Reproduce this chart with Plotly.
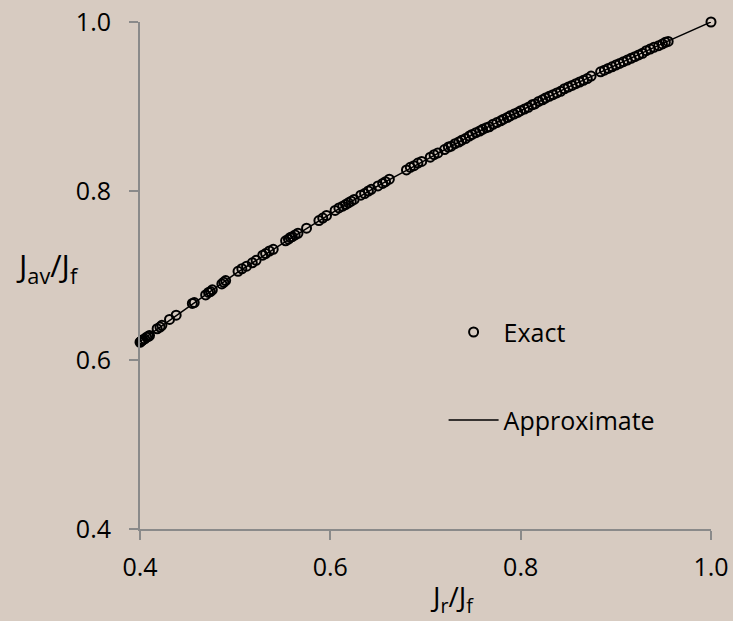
import plotly.graph_objects as go

# Exact points (J_r/J_f, J_av/J_f)
exact_x = [0.400, 0.401, 0.402, 0.403, 0.405, 0.407, 0.409, 0.410,
           0.418, 0.421, 0.423, 0.431, 0.438, 0.455, 0.457,
           0.469, 0.472, 0.474, 0.476, 0.486, 0.488, 0.490,
           0.503, 0.507, 0.512, 0.518, 0.522, 0.529, 0.532, 0.536, 0.540,
           0.553, 0.556, 0.558, 0.560, 0.563, 0.566, 0.575,
           0.588, 0.592, 0.596, 0.605, 0.609, 0.613, 0.616, 0.619, 0.622, 0.625,
           0.632, 0.636, 0.640, 0.643, 0.650, 0.655, 0.658, 0.662,
           0.680, 0.684, 0.688, 0.692, 0.696, 0.705, 0.709, 0.713,
           0.720, 0.724, 0.727, 0.731, 0.735, 0.738, 0.742,
           0.746, 0.749, 0.753, 0.757, 0.760, 0.764, 0.767, 0.771,
           0.775, 0.779, 0.782, 0.786, 0.789, 0.793, 0.797, 0.800, 0.804,
           0.808, 0.812, 0.815, 0.819, 0.823, 0.826, 0.830, 0.834,
           0.838, 0.842, 0.846, 0.850, 0.854, 0.858, 0.862, 0.866, 0.870, 0.874,
           0.884, 0.888, 0.892, 0.896, 0.900, 0.904,
           0.908, 0.912, 0.916, 0.920, 0.924, 0.928, 0.932, 0.936, 0.940,
           0.945, 0.949, 0.952, 0.955, 1.000]
exact_y = [0.621, 0.622, 0.623, 0.624, 0.625, 0.627, 0.628, 0.629,
           0.637, 0.639, 0.641, 0.648, 0.653, 0.667, 0.668,
           0.677, 0.680, 0.681, 0.683, 0.690, 0.692, 0.694,
           0.705, 0.708, 0.711, 0.715, 0.718, 0.724, 0.726, 0.729, 0.731,
           0.741, 0.743, 0.745, 0.746, 0.748, 0.750, 0.756,
           0.765, 0.768, 0.771, 0.777, 0.780, 0.782, 0.784, 0.786, 0.788, 0.790,
           0.795, 0.797, 0.800, 0.802, 0.806, 0.809, 0.811, 0.814,
           0.825, 0.828, 0.830, 0.833, 0.835, 0.840, 0.843, 0.845,
           0.849, 0.852, 0.853, 0.856, 0.858, 0.860, 0.862,
           0.865, 0.867, 0.869, 0.871, 0.873, 0.875, 0.876, 0.879,
           0.881, 0.883, 0.885, 0.887, 0.889, 0.891, 0.893, 0.895, 0.897,
           0.899, 0.902, 0.903, 0.906, 0.908, 0.910, 0.912, 0.914,
           0.916, 0.918, 0.921, 0.923, 0.925, 0.927, 0.929, 0.931, 0.933, 0.936,
           0.941, 0.943, 0.945, 0.947, 0.949, 0.951,
           0.953, 0.955, 0.957, 0.959, 0.961, 0.963, 0.966, 0.968, 0.970,
           0.972, 0.974, 0.976, 0.977, 1.000]

# Approximate curve nodes
approx_x = [0.40, 0.45, 0.50, 0.55, 0.60, 0.65, 0.70, 0.75, 0.80, 0.85, 0.90, 0.95, 1.00]
approx_y = [0.622, 0.662, 0.702, 0.738, 0.773, 0.806, 0.837, 0.867, 0.895, 0.923, 0.949, 0.975, 1.000]

tick_vals = [0.4, 0.6, 0.8, 1.0]
tick_text = ["0.4", "0.6", "0.8", "1.0"]

BG = "#d7cbc1"
AX = "#8a8a8a"
FONT = "Open Sans"

# plot area in pixels
L, R, T, B = 140.3, 711.5, 21.8, 528.7
PW, PH = R - L, B - T


def px_x(p):
    return (p - L) / PW


def px_y(p):
    return (B - p) / PH


fig = go.Figure()
fig.add_trace(go.Scatter(
    x=approx_x, y=approx_y, mode="lines", name="Approximate",
    line=dict(color="black", width=1.5), legend="legend2", cliponaxis=False))
fig.add_trace(go.Scatter(
    x=exact_x, y=exact_y, mode="markers", name="Exact", showlegend=True,
    marker=dict(symbol="circle-open", size=9, color="black", line=dict(width=2)),
    legend="legend", cliponaxis=False))

axis_common = dict(
    range=[0.4, 1.0], tickvals=tick_vals, ticktext=tick_text, automargin=False,
    showgrid=False, zeroline=False, showline=True, linecolor=AX, linewidth=2,
    ticks="outside", ticklen=9, tickwidth=2, tickcolor=AX,
    tickfont=dict(family=FONT, size=25, color="black"))

fig.update_layout(
    width=733, height=621, autosize=False, showlegend=True,
    margin=dict(l=L, r=733 - R, t=T, b=621 - B),
    paper_bgcolor=BG, plot_bgcolor=BG,
    font=dict(family=FONT, size=25, color="black"),
    xaxis=dict(**axis_common, ticklabelstandoff=6),
    yaxis=dict(**axis_common, ticklabelstandoff=13),
    legend=dict(x=px_x(444), y=px_y(332),
                xanchor="left", yanchor="middle", bgcolor="rgba(0,0,0,0)",
                font=dict(family=FONT, size=25), itemwidth=50),
    legend2=dict(x=px_x(444), y=px_y(420),
                 xanchor="left", yanchor="middle", bgcolor="rgba(0,0,0,0)",
                 font=dict(family=FONT, size=25), itemwidth=50),
    annotations=[
        dict(text="J<sub>av</sub>/J<sub>f</sub>", x=px_x(14), y=px_y(267),
             xref="paper", yref="paper", showarrow=False,
             xanchor="left", yanchor="middle",
             font=dict(family=FONT, size=31)),
        dict(text="J<sub>r</sub>/J<sub>f</sub>", x=px_x(452), y=px_y(598),
             xref="paper", yref="paper", showarrow=False,
             xanchor="center", yanchor="middle",
             font=dict(family=FONT, size=28)),
    ],
)

fig.write_html(
    "out.html",
    config={"displayModeBar": False},
    post_script="document.body.style.margin='0';document.body.style.overflow='hidden';")
